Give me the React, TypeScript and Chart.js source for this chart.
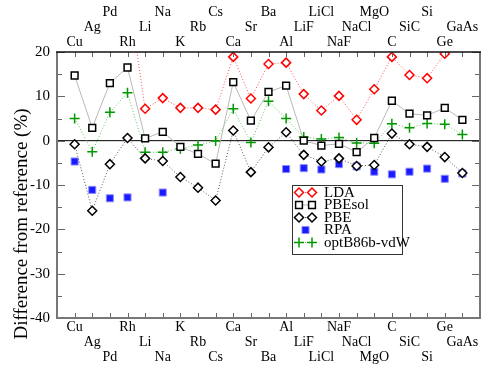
import React, { useEffect, useRef } from 'react';
import { Chart, registerables } from 'chart.js';

Chart.register(...registerables);

const categories = ['Cu', 'Ag', 'Pd', 'Rh', 'Li', 'Na', 'K', 'Rb', 'Cs', 'Ca', 'Sr', 'Ba', 'Al', 'LiF', 'LiCl', 'NaF', 'NaCl', 'MgO', 'C', 'SiC', 'Si', 'Ge', 'GaAs'];

const ldaValues = [null, null, null, 34.7, 7.2, 9.6, 7.4, 7.4, 7.0, 18.9, 9.5, 17.3, 17.6, 10.5, 6.8, 10.1, 4.7, 11.6, 18.9, 14.8, 14.1, 19.6, null];
const pbesolValues = [14.7, 2.9, 13.0, 16.5, 0.5, 2.0, -1.4, -3.0, -5.2, 13.2, 4.5, 11.0, 12.4, 0.0, -1.1, -0.7, -2.6, 0.6, 9.0, 6.1, 5.7, 7.4, 4.7];
const pbeValues = [-0.8, -15.8, -5.3, 0.6, -4.0, -4.6, -8.2, -10.6, -13.5, 2.3, -7.1, -1.5, 1.9, -3.2, -4.7, -4.0, -5.7, -5.5, 1.6, -0.8, -1.4, -3.7, -7.3];
const rpaValues = [-4.7, -11.1, -13.0, -12.8, null, -11.7, null, null, null, null, null, null, -6.4, -6.2, -6.5, -5.3, -5.8, -7.0, -7.6, -7.0, -6.3, -8.6, -7.4];
const optValues = [5.0, -2.5, 6.4, 10.8, -2.6, -2.6, -1.8, -1.0, -0.1, 7.2, -0.4, 8.9, 5.0, 0.8, 0.4, 0.7, -0.5, -0.6, 3.8, 2.9, 3.9, 3.7, 1.4];

const yTickValues = [-40, -30, -20, -10, 0, 10, 20];
const yMinorValues = [-35, -25, -15, -5, 5, 15];

const FONT = "'Liberation Serif', 'Times New Roman', serif";

const toPoints = (vals: (number | null)[]) => vals.map((v, i) => ({ x: i + 1, y: v }));

function drawMarker(ctx: CanvasRenderingContext2D, ds: any, x: number, y: number) {
  const r = ds.pointRadius;
  ctx.save();
  ctx.lineWidth = ds.pointBorderWidth;
  ctx.strokeStyle = ds.pointBorderColor;
  ctx.fillStyle = ds.pointBackgroundColor;
  ctx.setLineDash([]);
  ctx.beginPath();
  if (ds.pointStyle === 'rectRot') {
    ctx.moveTo(x, y - r);
    ctx.lineTo(x + r, y);
    ctx.lineTo(x, y + r);
    ctx.lineTo(x - r, y);
    ctx.closePath();
    ctx.fill();
    ctx.stroke();
  } else if (ds.pointStyle === 'rect') {
    const s = r * Math.SQRT1_2;
    ctx.rect(x - s, y - s, 2 * s, 2 * s);
    ctx.fill();
    ctx.stroke();
  } else if (ds.pointStyle === 'cross') {
    ctx.moveTo(x - r, y);
    ctx.lineTo(x + r, y);
    ctx.moveTo(x, y - r);
    ctx.lineTo(x, y + r);
    ctx.stroke();
  }
  ctx.restore();
}

const decorPlugin = {
  id: 'decor',
  beforeDatasetsDraw(chart: any) {
    const { ctx, chartArea } = chart;
    const y0 = chart.scales.y.getPixelForValue(0);
    ctx.save();
    ctx.strokeStyle = '#000';
    ctx.lineWidth = 1;
    ctx.beginPath();
    ctx.moveTo(chartArea.left, y0);
    ctx.lineTo(chartArea.right, y0);
    ctx.stroke();
    ctx.restore();
  },
  afterDraw(chart: any) {
    const { ctx, chartArea } = chart;
    const { left, right, top, bottom } = chartArea;
    const xs = chart.scales.x;
    const ys = chart.scales.y;
    ctx.save();
    // ticks
    ctx.strokeStyle = '#666';
    ctx.lineWidth = 1;
    ctx.beginPath();
    categories.forEach((_, i) => {
      const px = Math.round(xs.getPixelForValue(i + 1)) + 0.5;
      ctx.moveTo(px, bottom);
      ctx.lineTo(px, bottom - 5);
      ctx.moveTo(px, top);
      ctx.lineTo(px, top + 5);
    });
    yTickValues.forEach((v) => {
      const py = Math.round(ys.getPixelForValue(v)) + 0.5;
      ctx.moveTo(left, py);
      ctx.lineTo(left + 8, py);
      ctx.moveTo(right, py);
      ctx.lineTo(right - 8, py);
    });
    yMinorValues.forEach((v) => {
      const py = Math.round(ys.getPixelForValue(v)) + 0.5;
      ctx.moveTo(left, py);
      ctx.lineTo(left + 5, py);
      ctx.moveTo(right, py);
      ctx.lineTo(right - 5, py);
    });
    ctx.stroke();
    // frame
    ctx.strokeStyle = '#777';
    ctx.lineWidth = 2;
    ctx.beginPath();
    ctx.moveTo(left, top);
    ctx.lineTo(left, bottom);
    ctx.lineTo(right, bottom);
    ctx.lineTo(right, top);
    ctx.stroke();
    ctx.strokeStyle = '#111';
    ctx.lineWidth = 1.5;
    ctx.beginPath();
    ctx.moveTo(left - 1, top);
    ctx.lineTo(right + 1, top);
    ctx.stroke();

    // y title
    ctx.save();
    ctx.translate(22, (top + bottom) / 2 + 39);
    ctx.rotate(-Math.PI / 2);
    ctx.font = `19px ${FONT}`;
    ctx.fillStyle = '#000';
    ctx.textAlign = 'center';
    ctx.textBaseline = 'middle';
    ctx.fillText('Difference from reference (%)', 0, 0);
    ctx.restore();

    // legend
    const bx = 292, by = 185, bw = 110, bh = 69;
    ctx.fillStyle = '#fff';
    ctx.fillRect(bx, by, bw, bh);
    ctx.strokeStyle = '#333';
    ctx.lineWidth = 1;
    ctx.strokeRect(bx + 0.5, by + 0.5, bw, bh);
    chart.data.datasets.forEach((ds: any, i: number) => {
      const ly = by + 7.5 + i * 12.5;
      const x1 = bx + 7, x2 = bx + 20;
      if (ds.showLine !== false) {
        ctx.save();
        ctx.strokeStyle = ds.borderColor;
        ctx.lineWidth = ds.borderWidth;
        ctx.setLineDash(ds.borderDash || []);
        ctx.beginPath();
        ctx.moveTo(x1, ly);
        ctx.lineTo(x2, ly);
        ctx.stroke();
        ctx.restore();
        drawMarker(ctx, ds, x1, ly);
        drawMarker(ctx, ds, x2, ly);
      } else {
        drawMarker(ctx, ds, (x1 + x2) / 2, ly);
      }
      ctx.fillStyle = '#000';
      ctx.font = `15px ${FONT}`;
      ctx.textAlign = 'left';
      ctx.textBaseline = 'middle';
      ctx.fillText(ds.label, bx + 32, ly + 0.5);
    });
    ctx.restore();
  },
};

const tickFont = { family: FONT, size: 14, lineHeight: 1.07 };

export default function App() {
  const ref = useRef<HTMLCanvasElement>(null);
  useEffect(() => {
    document.body.style.margin = '0';
    const chart = new Chart(ref.current!, {
      type: 'line',
      data: {
        datasets: [
          {
            label: 'LDA',
            data: toPoints(ldaValues),
            borderColor: '#ff5050',
            borderWidth: 1,
            borderDash: [1, 2],
            pointStyle: 'rectRot',
            pointRadius: 4.5,
            pointBorderWidth: 1.5,
            pointBorderColor: '#ff0000',
            pointBackgroundColor: '#ffffff',
            spanGaps: false,
          },
          {
            label: 'PBEsol',
            data: toPoints(pbesolValues),
            borderColor: '#b8b8b8',
            borderWidth: 1,
            pointStyle: 'rect',
            pointRadius: 4.8,
            pointBorderWidth: 1.5,
            pointBorderColor: '#000000',
            pointBackgroundColor: '#ffffff',
          },
          {
            label: 'PBE',
            data: toPoints(pbeValues),
            borderColor: '#555555',
            borderWidth: 1,
            borderDash: [1, 2],
            pointStyle: 'rectRot',
            pointRadius: 4.5,
            pointBorderWidth: 1.5,
            pointBorderColor: '#000000',
            pointBackgroundColor: '#ffffff',
          },
          {
            label: 'RPA',
            data: toPoints(rpaValues),
            showLine: false,
            borderColor: '#2020ff',
            pointStyle: 'rect',
            pointRadius: 5,
            pointBorderWidth: 1,
            pointBorderColor: '#8c8cff',
            pointBackgroundColor: '#1a1aff',
          },
          {
            label: 'optB86b-vdW',
            data: toPoints(optValues),
            borderColor: '#60c060',
            borderWidth: 1,
            borderDash: [1, 2],
            pointStyle: 'cross',
            pointRadius: 5,
            pointBorderWidth: 1.5,
            pointBorderColor: '#009900',
            pointBackgroundColor: '#009900',
          },
        ] as any,
      },
      options: {
        animation: false,
        responsive: false,
        layout: { padding: { left: 0, right: 11, top: 0, bottom: 0 } },
        plugins: { legend: { display: false }, tooltip: { enabled: false } },
        elements: { line: { tension: 0 } },
        scales: {
          x: {
            type: 'linear',
            position: 'bottom',
            min: 0,
            max: 24,
            afterBuildTicks: (s: any) => {
              s.ticks = categories.map((_, i) => ({ value: i + 1 }));
            },
            afterFit: (s: any) => {
              s.height = 61;
            },
            ticks: {
              autoSkip: false,
              maxRotation: 0,
              padding: 2,
              color: '#000',
              font: tickFont,
              callback: (v: any) => {
                const i = Math.round(v) - 1;
                const name = categories[i];
                if (name === undefined) return '';
                const row = i % 3;
                return row === 0 ? [name] : row === 1 ? ['', name] : ['', '', name];
              },
            },
            grid: { display: false, drawTicks: false },
            border: { display: false },
          },
          x2: {
            type: 'linear',
            position: 'top',
            min: 0,
            max: 24,
            afterBuildTicks: (s: any) => {
              s.ticks = categories.map((_, i) => ({ value: i + 1 }));
            },
            afterFit: (s: any) => {
              s.height = 52;
            },
            ticks: {
              autoSkip: false,
              maxRotation: 0,
              padding: 2,
              color: '#000',
              font: tickFont,
              callback: (v: any) => {
                const i = Math.round(v) - 1;
                const name = categories[i];
                if (name === undefined) return '';
                const row = i % 3;
                return row === 0 ? [name] : row === 1 ? [name, ''] : [name, '', ''];
              },
            },
            grid: { display: false, drawTicks: false },
            border: { display: false },
          },
          y: {
            type: 'linear',
            min: -40,
            max: 20,
            afterBuildTicks: (s: any) => {
              s.ticks = yTickValues.map((v) => ({ value: v }));
            },
            afterFit: (s: any) => {
              s.width = 57;
            },
            ticks: {
              padding: 7,
              color: '#000',
              font: { family: FONT, size: 15 },
            },
            grid: { display: false, drawTicks: false },
            border: { display: false },
          },
        },
      } as any,
      plugins: [decorPlugin],
    });
    return () => chart.destroy();
  }, []);
  return <canvas ref={ref} width={491} height={379} style={{ display: 'block', width: 491, height: 379 }} />;
}
